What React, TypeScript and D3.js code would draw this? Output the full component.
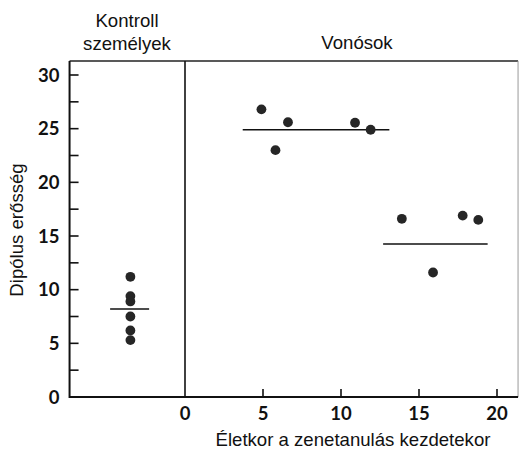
import React from "react";
import * as d3 from "d3";

// ---- data ----
const controlX = -3.5;
const controlValues = [11.2, 9.4, 8.9, 7.5, 6.2, 5.3];
const controlMean = { x0: -4.8, x1: -2.3, y: 8.2 };

const stringAges = [4.9, 6.6, 5.8, 10.9, 11.9, 13.9, 17.8, 18.8, 15.9];
const stringValues = [26.8, 25.6, 23.0, 25.55, 24.9, 16.6, 16.9, 16.5, 11.6];
const stringMeans = [
  { x0: 3.7, x1: 13.1, y: 24.9 },
  { x0: 12.7, x1: 19.4, y: 14.25 },
];

const yTicks = [0, 5, 10, 15, 20, 25, 30];
const yMinorTicks = [2.5, 7.5, 12.5, 17.5, 22.5, 27.5];
const xTicks = [5, 10, 15, 20];
const xLabelTicks = [0, 5, 10, 15, 20];

const xLimits = [-7.4, 21.35];
const yLimits = [0, 31.3];

const W = 519;
const H = 458;

export default function App() {
  const x = d3.scaleLinear().domain([0, 20]).range([185, 497]);
  const y = d3.scaleLinear().domain([0, 30]).range([397, 75]);

  const left = x(xLimits[0]);
  const right = x(xLimits[1]);
  const top = y(yLimits[1]);
  const bottom = y(yLimits[0]);

  const tickFont = "Lato, 'DejaVu Sans', sans-serif";
  const textFont = "'Liberation Sans', Arial, sans-serif";
  const dotColor = "#262626";
  const fs = 18.6;

  return (
    <svg
      width={W}
      height={H}
      style={{ position: "absolute", left: 0, top: 0, background: "#fff" }}
    >
      {/* frame */}
      <line x1={left} x2={right} y1={top} y2={top} stroke="#222" strokeWidth={1.6} />
      <line x1={right} x2={right} y1={top} y2={bottom} stroke="#999" strokeWidth={1} />
      <line x1={left} x2={left} y1={top} y2={bottom + 1} stroke="#111" strokeWidth={2} />
      <line x1={left} x2={right} y1={bottom} y2={bottom} stroke="#111" strokeWidth={2} />
      <line x1={x(0)} x2={x(0)} y1={top} y2={bottom} stroke="#111" strokeWidth={1.6} />

      {/* y ticks */}
      {[...yTicks, ...yMinorTicks].map((t) => (
        <line key={"yt" + t} x1={left} x2={left + 9} y1={y(t)} y2={y(t)} stroke="#111" strokeWidth={1.6} />
      ))}
      {yTicks.map((t) => (
        <text
          key={"yl" + t}
          x={left - 10}
          y={y(t)}
          dy="0.36em"
          textAnchor="end"
          fontFamily={tickFont}
          fontWeight={700}
          fontSize={18.5}
          fill="#111"
        >
          {t}
        </text>
      ))}

      {/* x ticks */}
      {xTicks.map((t) => (
        <line key={"xt" + t} x1={x(t)} x2={x(t)} y1={bottom} y2={bottom - 8} stroke="#111" strokeWidth={1.6} />
      ))}
      {xLabelTicks.map((t) => (
        <text
          key={"xl" + t}
          x={x(t)}
          y={bottom + 23}
          textAnchor="middle"
          fontFamily={tickFont}
          fontWeight={700}
          fontSize={18.5}
          fill="#111"
        >
          {t}
        </text>
      ))}

      {/* mean lines */}
      <line
        x1={x(controlMean.x0)}
        x2={x(controlMean.x1)}
        y1={y(controlMean.y)}
        y2={y(controlMean.y)}
        stroke="#111"
        strokeWidth={1.6}
      />
      {stringMeans.map((m, i) => (
        <line key={"m" + i} x1={x(m.x0)} x2={x(m.x1)} y1={y(m.y)} y2={y(m.y)} stroke="#111" strokeWidth={1.6} />
      ))}

      {/* points */}
      {controlValues.map((v, i) => (
        <circle key={"c" + i} cx={x(controlX)} cy={y(v)} r={4.9} fill={dotColor} />
      ))}
      {stringValues.map((v, i) => (
        <circle key={"s" + i} cx={x(stringAges[i])} cy={y(v)} r={4.9} fill={dotColor} />
      ))}

      {/* titles */}
      <text x={127} y={27} textAnchor="middle" fontFamily={textFont} fontSize={fs} fill="#111">
        Kontroll
      </text>
      <text x={127} y={50} textAnchor="middle" fontFamily={textFont} fontSize={fs} fill="#111">
        személyek
      </text>
      <text x={357} y={49} textAnchor="middle" fontFamily={textFont} fontSize={fs} fill="#111">
        Vonósok
      </text>

      {/* axis titles */}
      <text
        transform={`translate(23, 230) rotate(-90)`}
        textAnchor="middle"
        fontFamily={textFont}
        fontSize={fs}
        fill="#111"
      >
        Dipólus erősség
      </text>
      <text x={353} y={446} textAnchor="middle" fontFamily={textFont} fontSize={fs} fill="#111">
        Életkor a zenetanulás kezdetekor
      </text>
    </svg>
  );
}
